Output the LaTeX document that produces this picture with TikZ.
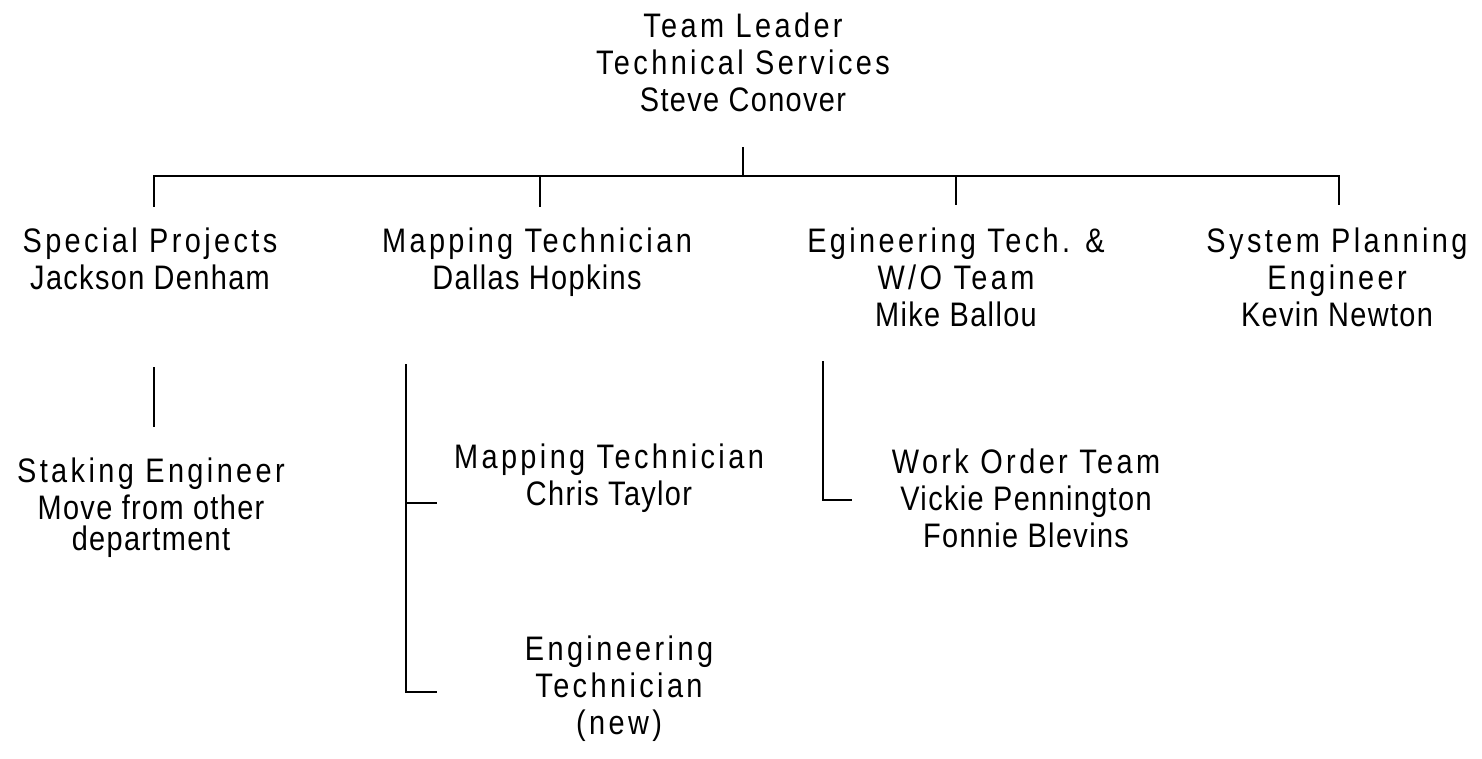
\documentclass[tikz,border=0pt]{standalone}
\usepackage{fontspec}
\setmainfont{Liberation Sans}[FakeStretch=0.85]
\newfontfamily\titlefont{Liberation Sans}[FakeStretch=0.85,LetterSpace=10]
\newfontfamily\namefont{Liberation Sans}[FakeStretch=0.85,LetterSpace=4]
\usepackage{tikz}
\usetikzlibrary{positioning}

\tikzset{
  post/.style={align=center, anchor=north, inner sep=0pt,
    font=\fontsize{17pt}{18.5pt}\titlefont},
  link/.style={line width=1pt, line cap=rect},
}

\begin{document}
\begin{tikzpicture}[x=0.5pt,y=-0.5pt]
        \useasboundingbox (0,0) rectangle (1482,759);

        % posts
        \node[post] (lead) at (743,12) {Team Leader\\Technical Services\\{\namefont Steve Conover}};
        \node[post] (spec) at (150,227) {Special Projects\\{\namefont Jackson Denham}};
        \node[post] (mapt) at (537,227) {Mapping Technician\\{\namefont Dallas Hopkins}};
        \node[post] (egt) at (956,227) {Egineering Tech. \&\\W/O Team\\{\namefont Mike Ballou}};
        \node[post] (sysp) at (1337,227) {System Planning\\Engineer\\{\namefont Kevin Newton}};
        \node[post] (stake) at (151,457) {Staking Engineer\\{\namefont Move from other}\\[-3pt]{\namefont department}};
        \node[post] (mapt2) at (609,443) {Mapping Technician\\{\namefont Chris Taylor}};
        \node[post] (engt) at (619,635) {Engineering\\Technician\\(new)};
        \node[post] (wot) at (1026,448) {Work Order Team\\{\namefont Vickie Pennington}\\{\namefont Fonnie Blevins}};

        % junctions
        \coordinate (stem) at (743,148);
        \coordinate (bus) at (743,176);
        \coordinate (d1) at (154,176);
        \coordinate (d2) at (540,176);
        \coordinate (d3) at (956,176);
        \coordinate (d4) at (1339,176);
        \coordinate (s1) at (154,368);
        \coordinate (m1) at (406,365);
        \coordinate (m2) at (406,503);
        \coordinate (m3) at (406,692);
        \coordinate (w1) at (823,362);
        \coordinate (w2) at (823,500);

        % top level
        \draw[link] (stem) -- (bus);
        \draw[link] (d1) -- (d4);
        \draw[link] (d1) -- ++(0,30);
        \draw[link] (d2) -- ++(0,30);
        \draw[link] (d3) -- ++(0,28);
        \draw[link] (d4) -- ++(0,28);

        % second level
        \draw[link] (s1) -- ++(0,58);
        \draw[link] (m1) -- (m3) -- ++(30,0);
        \draw[link] (m2) -- ++(30,0);
        \draw[link] (w1) -- (w2) -- ++(28,0);
\end{tikzpicture}
\end{document}
